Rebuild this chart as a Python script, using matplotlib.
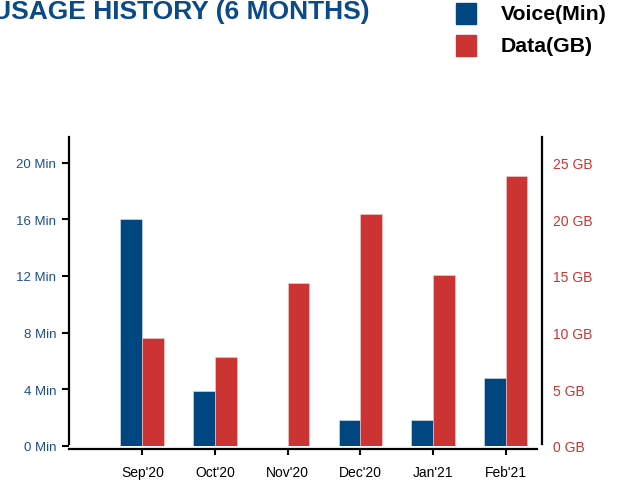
import numpy as np
import matplotlib
matplotlib.use('Agg')
import matplotlib.pyplot as plt
from matplotlib.patches import Rectangle

plt.rcParams['font.family'] = ['Liberation Sans', 'DejaVu Sans']

## data
months = ["Sep'20", "Oct'20", "Nov'20", "Dec'20", "Jan'21", "Feb'21"]
voice_min = [16, 3.9, 0, 1.8, 1.8, 4.8]
data_gb = [9.5, 7.85, 14.4, 20.5, 15.1, 23.8]
voice_ticks = [0, 4, 8, 12, 16, 20]
data_ticks = [0, 5, 10, 15, 20, 25]

blue = '#004680'
red = '#cc3333'

fig = plt.figure(figsize=(6.28, 4.85), dpi=100)
ax = fig.add_axes([68.5/628, 38/485, (542-68.5)/628, (447-138)/485])
ax2 = ax.twinx()

x = np.arange(len(months))
w = 0.3
ax.bar(x - w/2, voice_min, width=w, color=blue, edgecolor='#dfe6ee', linewidth=0.4, zorder=3)
ax2.bar(x + w/2, data_gb, width=w, color=red, edgecolor='#f3d0d0', linewidth=0.4, zorder=3)

ax.set_xlim(-1.015, 5.5)
ax.set_ylim(0, 21.8)
ax2.set_ylim(0, 27.25)

## left axis
ax.set_yticks(voice_ticks)
ax.set_yticklabels(['%d Min' % v for v in voice_ticks])
ax.tick_params(axis='y', colors='black', labelcolor='#1f4f8b', length=5, width=1.5,
               pad=4, labelsize=9.5)
ax.set_xticks(x)
ax.set_xticklabels(months)
ax.tick_params(axis='x', length=4.5, width=1.5, pad=7, labelsize=10)

## right axis
ax2.set_yticks(data_ticks)
ax2.set_yticklabels(['%d GB' % v for v in data_ticks])
ax2.tick_params(axis='y', length=0, pad=8, labelcolor=red, labelsize=10)

for a in (ax, ax2):
    a.spines['top'].set_visible(False)
    for s in a.spines.values():
        s.set_linewidth(1.6)
ax.spines['right'].set_visible(False)
ax2.spines['left'].set_visible(False)
ax2.spines['bottom'].set_visible(False)
ax.spines['bottom'].set_position(('outward', 2))
ax.spines['bottom'].set_bounds(-1.015, 5.43)
ax.spines['left'].set_bounds(0.15, 21.8)
ax2.spines['right'].set_bounds(0.2, 27.25)

## title, cut off at the top left like the original
fig.text(370/628, 1 - 19/485, 'USAGE HISTORY (6 MONTHS)', ha='right', va='baseline',
         fontsize=19, fontweight='bold', color='#0a4a86')

## legend drawn by hand
fig.patches.append(Rectangle((456/628, 1 - 25/485), 20.5/628, 21/485,
                             transform=fig.transFigure, color=blue))
fig.patches.append(Rectangle((456/628, 1 - 57/485), 20.5/628, 21/485,
                             transform=fig.transFigure, color=red))
fig.text(501/628, 1 - 15/485, 'Voice(Min)', ha='left', va='center',
         fontsize=15.3, fontweight='bold', color='black')
fig.text(501/628, 1 - 46/485, 'Data(GB)', ha='left', va='center',
         fontsize=15.3, fontweight='bold', color='black')

fig.savefig('out.png', dpi=100)
